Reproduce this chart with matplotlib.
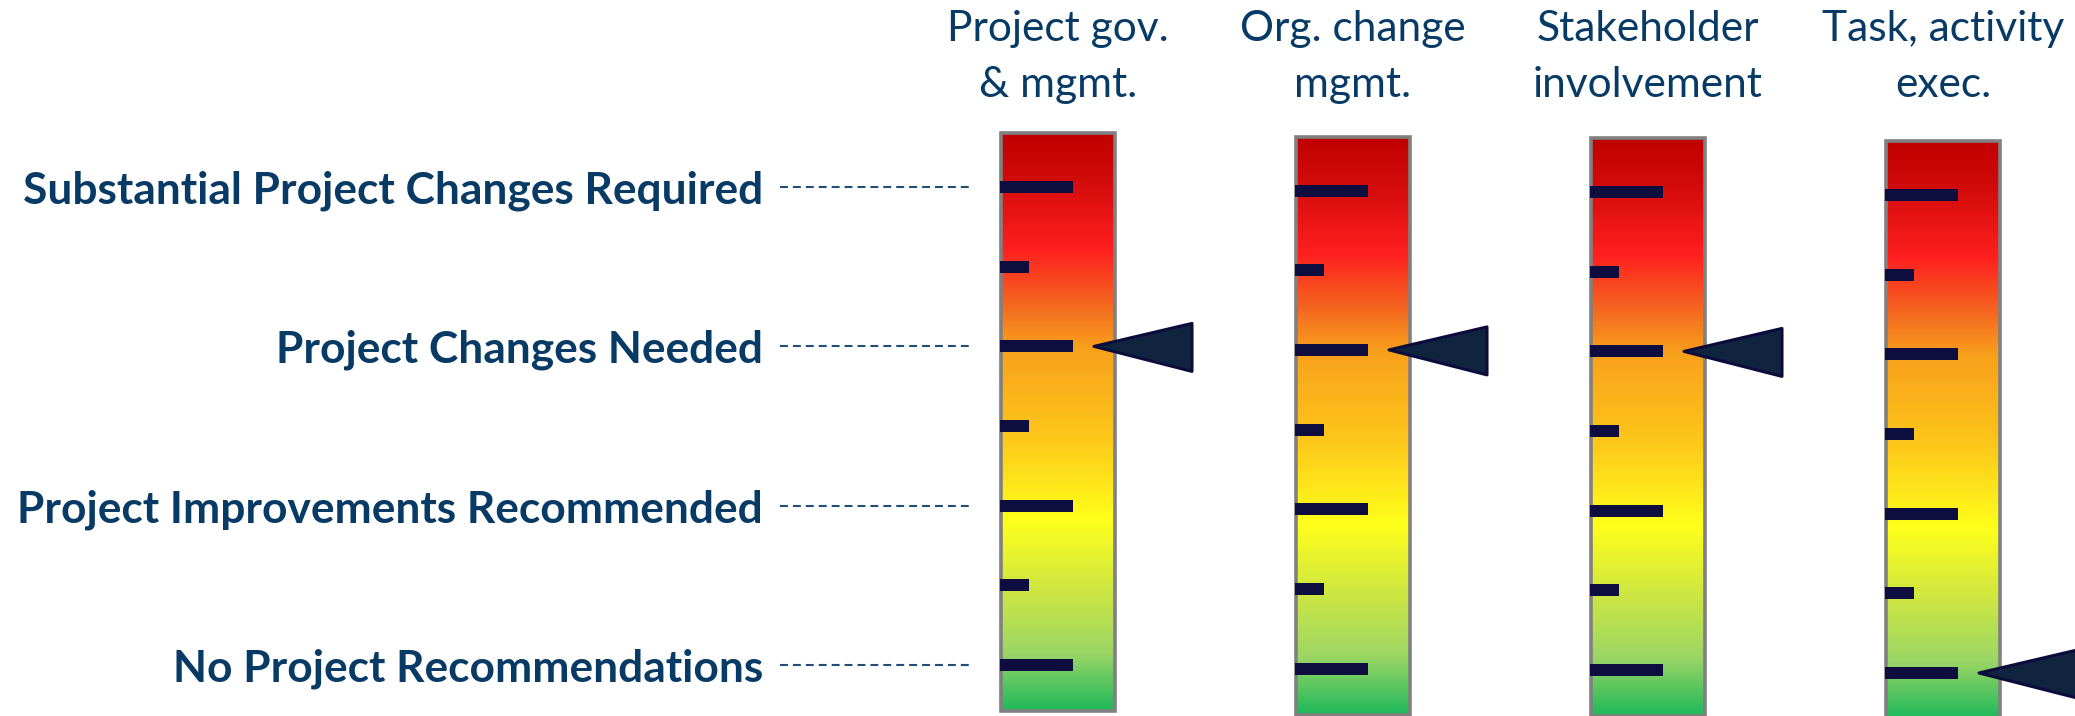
import numpy as np
import matplotlib
matplotlib.use('Agg')
import matplotlib.pyplot as plt
from matplotlib.colors import LinearSegmentedColormap
from matplotlib.patches import Rectangle, Polygon

# ---------------- data ----------------
categories = ["Project gov.\n& mgmt.", "Org. change\nmgmt.",
              "Stakeholder\ninvolvement", "Task, activity\nexec."]
level_labels = ["No Project Recommendations", "Project Improvements Recommended",
                "Project Changes Needed", "Substantial Project Changes Required"]
level_values = [0, 1, 2, 3]
minor_values = [0.5, 1.5, 2.5]
pointer_values = [2, 2, 2, 0]

# ---------------- layout / style ----------------
W, H, DPI = 2075, 716, 100
PX_X = 295.0     # pixels per gauge index
PX_Y = 159.3     # pixels per level
X0 = 1058.0      # pixel x of gauge 0 centre
Y0 = 665.0       # pixel y of level 0 on gauge 0
gauge_offsets_px = [0, 3.5, 5, 8]   # each gauge sits slightly lower
TXT = '#083a66'
TICK = '#0d0d3f'
ARROW_FC = '#10243f'
ARROW_EC = '#0c0c3c'
BORDER = '#808080'

def dx(p): return p / PX_X
def dy(p): return p / PX_Y

fig = plt.figure(figsize=(W / DPI, H / DPI), dpi=DPI)
ax = fig.add_axes([0, 0, 1, 1])
ax.set_xlim(-X0 / PX_X, (W - X0) / PX_X)
ax.set_ylim(-(H - Y0) / PX_Y, Y0 / PX_Y)
ax.set_axis_off()

stops = [(0.00, '#c00000'), (0.08, '#d30b0b'), (0.20, '#ff1f1f'),
         (0.30, '#f46a20'), (0.37, '#f8a01c'), (0.52, '#fdc51a'),
         (0.67, '#ffff1a'), (0.78, '#d2e83e'), (0.90, '#9cd665'),
         (1.00, '#20b85a')]
cmap = LinearSegmentedColormap.from_list('gauge', stops)
grad = np.linspace(0, 1, 512).reshape(-1, 1)

half_w = dx(57)
gauge_top = dy(665 - 133)
gauge_bot = -dy(711 - 665)
tick_h = dy(12)

for i, (cat, val) in enumerate(zip(categories, pointer_values)):
    off = -dy(gauge_offsets_px[i])
    c = i
    l, r = c - half_w, c + half_w
    ax.imshow(grad, cmap=cmap, origin='upper', aspect='auto',
              extent=(l, r, gauge_bot + off, gauge_top + off),
              interpolation='bilinear', zorder=1)
    ax.add_patch(Rectangle((l, gauge_bot + off), r - l, gauge_top - gauge_bot,
                           fill=False, edgecolor=BORDER, lw=2.6, zorder=3,
                           joinstyle='miter'))
    tick_l = l - dx(1.5)
    for v in level_values:
        ax.add_patch(Rectangle((tick_l, v + off - tick_h / 2), dx(73), tick_h,
                               facecolor=TICK, edgecolor='none', zorder=4))
    for v in minor_values:
        ax.add_patch(Rectangle((tick_l, v + off - tick_h / 2), dx(29), tick_h,
                               facecolor=TICK, edgecolor='none', zorder=4))
    # pointer
    tip_x = l + dx(93)
    base_x = l + dx(191)
    y = val + off
    tri = Polygon([(tip_x, y), (base_x, y + dy(23)), (base_x, y - dy(25))],
                  closed=True, facecolor=ARROW_FC, edgecolor=ARROW_EC,
                  lw=2.2, joinstyle='round', zorder=5)
    ax.add_patch(tri)
    # header
    ax.text(c, dy(665 - 57), cat, ha='center', va='center', color=TXT,
            fontsize=30, family='Lato', linespacing=1.55, zorder=6)

# left labels + dashed leaders
label_x = dx(763 - X0)
for v, lab in zip(level_values, level_labels):
    ax.plot([dx(780 - X0), dx(972 - X0)], [v, v], color='#1f4e79', lw=1.5,
            dashes=(3.8, 2.4), zorder=2)
    ax.text(label_x, v, lab, ha='right', va='center_baseline', color=TXT,
            fontsize=27, fontweight='bold', family='Lato', zorder=6)

# fit font sizes to measured widths
fig.canvas.draw()
rend = fig.canvas.get_renderer()
texts = ax.texts
hdr = [t for t in texts if '\n' in t.get_text()]
labs = [t for t in texts if '\n' not in t.get_text()]
ref = [t for t in labs if t.get_text().startswith('Substantial')][0]
s = 739.0 / ref.get_window_extent(rend).width
for t in labs:
    t.set_fontsize(t.get_fontsize() * s)
# width of first header line "Project gov." target 222 px
tmp = ax.text(0, 0, "Project gov.", fontsize=30, family='Lato')
wline = tmp.get_window_extent(rend).width
tmp.remove()
s2 = 222.0 / wline
for t in hdr:
    t.set_fontsize(t.get_fontsize() * s2)

fig.savefig('out.png', dpi=DPI, facecolor='white')
